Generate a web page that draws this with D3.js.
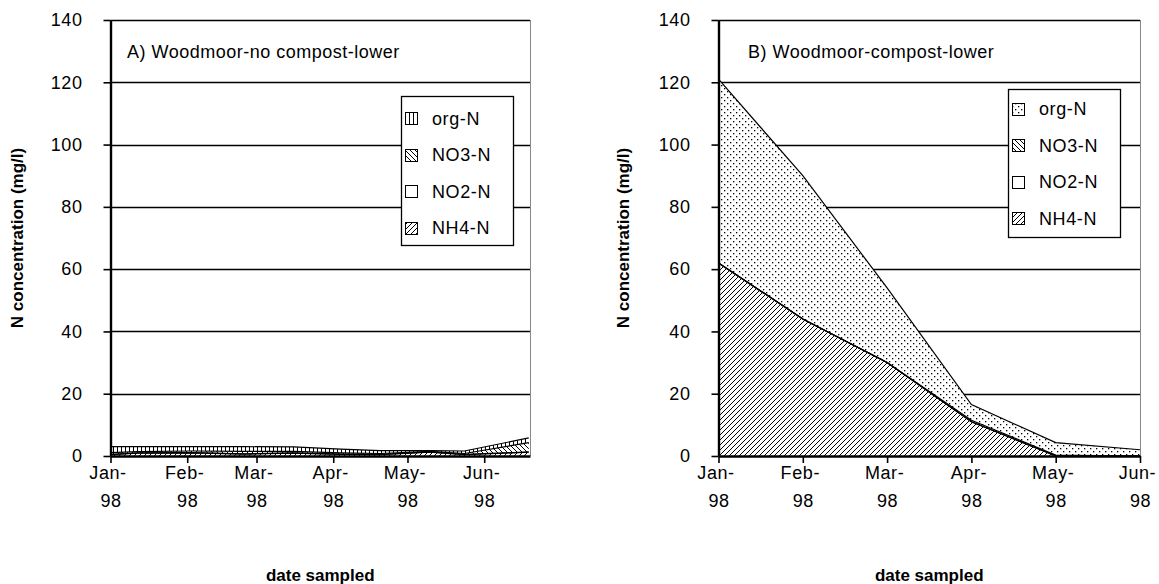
<!DOCTYPE html>
<html>
<head>
<meta charset="utf-8">
<script src="https://cdn.jsdelivr.net/npm/d3@7"></script>
<style>
  html, body { margin: 0; padding: 0; background: #fff; }
  svg { display: block; }
  text { font-family: "Liberation Sans", Arial, sans-serif; fill: #000; }
</style>
</head>
<body>
<svg id="chart" width="1159" height="584"></svg>
<script>
// ---- data ----
const seriesNames = ["org-N", "NO3-N", "NO2-N", "NH4-N"];
const yTicks = [0, 20, 40, 60, 80, 100, 120, 140];
const monthTicks = ["1998-01-01", "1998-02-01", "1998-03-01", "1998-04-01", "1998-05-01", "1998-06-01"];
const monthLabels = ["Jan-", "Feb-", "Mar-", "Apr-", "May-", "Jun-"];
const yearLabel = "98";

// Panel A: Woodmoor, no compost, lower (sampling dates, mg/l)
const aDates = ["1998-01-01", "1998-01-12", "1998-02-03", "1998-02-24", "1998-03-16", "1998-04-04", "1998-04-20", "1998-05-10", "1998-05-24", "1998-06-19"];
const aNH4 = [0.4, 0.9, 1.0, 0.6, 0.9, 0.5, 0.4, 1.2, 0.4, 1.2];
const aNO2 = [0.1, 0.1, 0.1, 0.1, 0.1, 0.1, 0.1, 0.1, 0.1, 0.1];
const aNO3 = [0.6, 0.4, 0.5, 0.8, 0.5, 0.4, 0.3, 0.2, 0.3, 3.0];
const aOrg = [1.9, 1.6, 1.4, 1.5, 1.4, 1.2, 0.9, 0.2, 0.8, 1.5];

// Panel B: Woodmoor, compost, lower (monthly, mg/l)
const bMonths = ["1998-01-01", "1998-02-01", "1998-03-01", "1998-04-01", "1998-05-01", "1998-06-01"];
const bNH4 = [62, 44, 30, 11, 0, 0];
const bNO2 = [0, 0, 0, 0, 0, 0];
const bNO3 = [0, 0, 0, 0.5, 0.3, 0];
const bOrg = [59, 46, 24, 5, 4, 2];

const titleA = "A) Woodmoor-no compost-lower";
const titleB = "B) Woodmoor-compost-lower";
const yTitle = "N concentration (mg/l)";
const xTitle = "date sampled";

// ---- drawing ----
const svg = d3.select("#chart");
const parse = d3.utcParse("%Y-%m-%d");
const defs = svg.append("defs");
const labelFont = 18;
const labelSpacing = 0.6;

function hatch(id, size, draw) {
  const p = defs.append("pattern").attr("id", id)
    .attr("patternUnits", "userSpaceOnUse").attr("width", size).attr("height", size);
  p.append("rect").attr("width", size).attr("height", size).attr("fill", "#fff");
  draw(p, size);
}
// NH4-N: forward diagonal lines
hatch("pNH4", 5, (p, s) => {
  p.append("path").attr("d", `M0,${s} L${s},0 M${-1},1 L1,-1 M${s - 1},${s + 1} L${s + 1},${s - 1}`)
    .attr("stroke", "#000").attr("stroke-width", 1);
});
// NO3-N: backward diagonal lines
hatch("pNO3", 5, (p, s) => {
  p.append("path").attr("d", `M0,0 L${s},${s} M${s - 1},-1 L${s + 1},1 M-1,${s - 1} L1,${s + 1}`)
    .attr("stroke", "#000").attr("stroke-width", 1);
});
// NO2-N: plain white
hatch("pNO2", 4, () => {});
// org-N (panel B): staggered dots
hatch("pOrgDots", 6, (p) => {
  p.append("rect").attr("x", 1).attr("y", 1).attr("width", 1.3).attr("height", 1.3).attr("fill", "#000");
  p.append("rect").attr("x", 4).attr("y", 4).attr("width", 1.3).attr("height", 1.3).attr("fill", "#000");
});
// org-N (panel A): vertical lines
hatch("pOrgVert", 4, (p, s) => {
  p.append("rect").attr("x", 1).attr("y", 0).attr("width", 1).attr("height", s).attr("fill", "#000");
});

function drawPanel(cfg) {
  const g = svg.append("g");
  const y = d3.scaleLinear().domain([0, 140]).range([cfg.bottom, cfg.top]);
  const x = cfg.x;

  // stacked layers: NH4 at bottom, then NO2, NO3, org-N on top
  const rows = cfg.dates.map((d, i) => ({
    date: parse(d), "NH4-N": cfg.nh4[i], "NO2-N": cfg.no2[i], "NO3-N": cfg.no3[i], "org-N": cfg.org[i]
  }));
  const stack = d3.stack().keys(["NH4-N", "NO2-N", "NO3-N", "org-N"]);
  const layers = stack(rows);

  // gridlines
  g.append("g").selectAll("line").data(yTicks.filter(v => v > 0)).join("line")
    .attr("x1", cfg.left).attr("x2", cfg.right)
    .attr("y1", d => Math.round(y(d)) + 0.5).attr("y2", d => Math.round(y(d)) + 0.5)
    .attr("stroke", "#000").attr("stroke-width", 1.6);

  // plot frame on the right
  g.append("line").attr("x1", cfg.right + 0.5).attr("x2", cfg.right + 0.5)
    .attr("y1", cfg.top).attr("y2", cfg.bottom).attr("stroke", "#888").attr("stroke-width", 1);

  const area = d3.area().x(d => x(d.data.date)).y0(d => y(d[0])).y1(d => y(d[1]));
  const topLine = d3.line().x(d => x(d.data.date)).y(d => y(d[1]));
  g.append("g").selectAll("path.layer").data(layers).join("path")
    .attr("class", "layer")
    .attr("d", area)
    .attr("fill", d => `url(#${cfg.fills[d.key]})`);
  g.append("g").selectAll("path.edge").data(layers).join("path")
    .attr("class", "edge")
    .attr("d", topLine)
    .attr("fill", "none").attr("stroke", "#000").attr("stroke-width", 1.2);

  // y axis
  const yAxis = d3.axisLeft(y).tickValues(yTicks).tickSize(7).tickPadding(21).tickSizeOuter(0);
  const ya = g.append("g").attr("transform", `translate(${cfg.left},0)`).call(yAxis);
  ya.select(".domain").attr("stroke", "#000").attr("stroke-width", 2.4);
  ya.selectAll(".tick line").attr("stroke", "#000").attr("stroke-width", 1.6);
  ya.selectAll(".tick text").attr("font-size", labelFont).attr("letter-spacing", labelSpacing)
    .attr("font-family", "Liberation Sans, Arial, sans-serif");

  // x axis
  const xAxis = d3.axisBottom(x).tickValues(cfg.tickDates).tickSize(7).tickSizeOuter(0).tickFormat(() => "");
  const xa = g.append("g").attr("transform", `translate(0,${cfg.bottom})`).call(xAxis);
  xa.select(".domain").attr("stroke", "#000").attr("stroke-width", 2.4);
  xa.selectAll(".tick line").attr("stroke", "#000").attr("stroke-width", 1.6);
  xa.selectAll(".tick").each(function (d, i) {
    const t = d3.select(this).append("text").attr("font-size", labelFont)
      .attr("letter-spacing", labelSpacing).attr("text-anchor", "middle");
    t.append("tspan").attr("x", -3).attr("y", 23).text(monthLabels[i]);
    t.append("tspan").attr("x", 0).attr("y", 51).text(yearLabel);
  });

  // panel title inside plot
  g.append("text").attr("x", cfg.titleX).attr("y", 58).attr("font-size", 18)
    .attr("letter-spacing", 0.5).text(cfg.title);

  // axis titles
  g.append("text").attr("transform", `translate(${cfg.yTitleX},${(cfg.top + cfg.bottom) / 2}) rotate(-90)`)
    .attr("text-anchor", "middle").attr("font-size", 17).attr("font-weight", "bold").text(yTitle);
  g.append("text").attr("x", (cfg.left + cfg.right) / 2).attr("y", 581)
    .attr("text-anchor", "middle").attr("font-size", 17).attr("font-weight", "bold").text(xTitle);

  // legend
  const L = cfg.legend;
  const lg = g.append("g");
  lg.append("rect").attr("x", L.x + 0.5).attr("y", L.y + 0.5).attr("width", L.w).attr("height", L.h)
    .attr("fill", "#fff").attr("stroke", "#000").attr("stroke-width", 1.3);
  seriesNames.forEach((name, i) => {
    const cy = L.y + L.first + i * L.step;
    lg.append("rect").attr("x", L.x + 4.5).attr("y", Math.round(cy - 6) + 0.5).attr("width", 12).attr("height", 12)
      .attr("fill", `url(#${cfg.fills[name]})`).attr("stroke", "#000").attr("stroke-width", 1);
    lg.append("text").attr("x", L.x + 31).attr("y", cy + 6.5).attr("font-size", labelFont)
      .attr("letter-spacing", labelSpacing).text(name);
  });
}

drawPanel({
  left: 110.5, right: 530, top: 20, bottom: 456,
  x: d3.scaleUtc().domain([parse("1998-01-01"), new Date(Date.UTC(1998, 5, 19, 12))]).range([110.5, 530]),
  tickDates: monthTicks.map(parse),
  dates: aDates, nh4: aNH4, no2: aNO2, no3: aNO3, org: aOrg,
  fills: { "org-N": "pOrgVert", "NO3-N": "pNO3", "NO2-N": "pNO2", "NH4-N": "pNH4" },
  title: titleA, titleX: 127, yTitleX: 23,
  legend: { x: 401, y: 96, w: 112, h: 149, first: 22, step: 36.5 }
});

drawPanel({
  left: 718.5, right: 1140, top: 20, bottom: 456,
  x: d3.scalePoint().domain(bMonths.map(d => +parse(d))).range([718.5, 1140]),
  tickDates: bMonths.map(d => +parse(d)),
  dates: bMonths, nh4: bNH4, no2: bNO2, no3: bNO3, org: bOrg,
  fills: { "org-N": "pOrgDots", "NO3-N": "pNO3", "NO2-N": "pNO2", "NH4-N": "pNH4" },
  title: titleB, titleX: 748, yTitleX: 629,
  legend: { x: 1008, y: 89, w: 112, h: 148, first: 19.5, step: 36.5 }
});
</script>
</body>
</html>
